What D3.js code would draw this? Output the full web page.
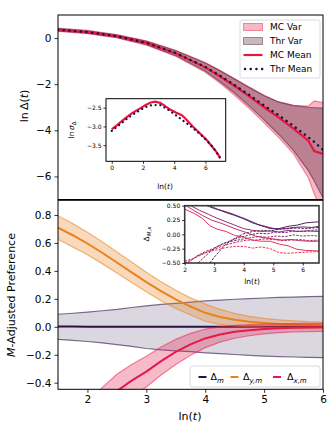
<!DOCTYPE html>
<html>
<head>
<meta charset="utf-8">
<script src="https://cdn.jsdelivr.net/npm/d3@7"></script>
<style>
  body { margin: 0; background: #fff; }
  svg text { font-family: "DejaVu Sans", sans-serif; fill: #000; }
</style>
</head>
<body>
<div id="chart"></div>
<script>
// ---- data: top panel, ln Delta(t) vs ln(t)
var topX    = [1.5, 2.0, 2.5, 3.0, 3.5, 4.0, 4.25, 4.5, 4.75, 5.0, 5.25, 5.5, 5.75, 5.85, 6.0];
var mcMean  = [0.36, 0.26, 0.08, -0.21, -0.66, -1.27, -1.66, -2.08, -2.53, -3.0, -3.45, -3.93, -4.45, -4.9, -5.02];
var thrMean = [0.36, 0.26, 0.08, -0.21, -0.65, -1.25, -1.63, -2.04, -2.47, -2.92, -3.35, -3.81, -4.3, -4.5, -4.85];
var thrUp   = [0.41, 0.31, 0.13, -0.14, -0.55, -1.08, -1.42, -1.78, -2.15, -2.5, -2.77, -2.93, -3.0, -3.02, -3.04];
var thrLo   = [0.31, 0.21, 0.03, -0.28, -0.76, -1.43, -1.88, -2.38, -2.95, -3.55, -4.18, -4.88, -5.75, -6.2, -6.92];
var mcUp    = [0.43, 0.33, 0.15, -0.12, -0.53, -1.06, -1.4, -1.76, -2.12, -2.48, -2.78, -2.92, -2.95, -2.72, -2.8];
var mcLo    = [0.29, 0.19, 0.01, -0.31, -0.79, -1.48, -1.95, -2.48, -3.06, -3.68, -4.32, -5.02, -6.05, -6.75, -7.6];
var topYTicks = [0, -2, -4, -6];

// ---- data: top inset, ln sigma vs ln(t)
var insX   = [0, 0.32, 0.64, 0.96, 1.28, 1.6, 1.92, 2.2, 2.5, 2.78, 3.1, 3.4, 3.74, 4.1, 4.49, 4.7, 4.92, 5.24, 5.56, 5.85, 6.1, 6.41, 6.7, 6.95];
var insMC  = [-3.08, -2.97, -2.86, -2.75, -2.65, -2.57, -2.49, -2.42, -2.36, -2.34, -2.37, -2.45, -2.55, -2.63, -2.7, -2.78, -2.88, -3.02, -3.15, -3.27, -3.37, -3.53, -3.68, -3.84];
var insThr = [-3.12, -3.01, -2.91, -2.8, -2.7, -2.62, -2.54, -2.48, -2.44, -2.43, -2.43, -2.5, -2.59, -2.7, -2.82, -2.89, -2.95, -3.06, -3.17, -3.28, -3.38, -3.52, -3.68, -3.85];
var insXTicks = [0, 2, 4, 6];
var insYTicks = [-2.5, -3.0, -3.5];

// ---- data: bottom panel, M-adjusted preference
var botX   = [1.5, 1.75, 2.0, 2.25, 2.5, 2.75, 3.0, 3.25, 3.5, 3.75, 4.0, 4.25, 4.5, 4.75, 5.0, 5.25, 5.5, 5.75, 6.0];
var dmMean = [0.002, 0.002, 0.001, 0.001, 0.001, 0.001, 0.0, 0.0, 0.001, 0.001, 0.0, 0.0, 0.001, 0.001, 0.0, 0.0, 0.0, 0.0, 0.0];
var dmUp   = [0.09, 0.097, 0.105, 0.115, 0.125, 0.138, 0.15, 0.16, 0.168, 0.177, 0.185, 0.191, 0.197, 0.202, 0.206, 0.21, 0.213, 0.216, 0.218];
var dmLo   = [-0.09, -0.097, -0.105, -0.115, -0.127, -0.14, -0.155, -0.165, -0.172, -0.178, -0.186, -0.192, -0.198, -0.204, -0.209, -0.213, -0.216, -0.219, -0.221];
var dyMean = [0.71, 0.655, 0.596, 0.53, 0.46, 0.39, 0.32, 0.255, 0.196, 0.145, 0.1, 0.07, 0.05, 0.037, 0.028, 0.021, 0.017, 0.014, 0.012];
var dyUp   = [0.795, 0.738, 0.676, 0.608, 0.535, 0.463, 0.39, 0.323, 0.261, 0.207, 0.162, 0.125, 0.096, 0.075, 0.06, 0.05, 0.043, 0.037, 0.034];
var dyLo   = [0.625, 0.572, 0.516, 0.452, 0.385, 0.317, 0.25, 0.187, 0.131, 0.085, 0.04, 0.017, 0.005, -0.001, -0.004, -0.007, -0.009, -0.01, -0.01];
var dxMean = [-0.85, -0.76, -0.66, -0.56, -0.46, -0.385, -0.32, -0.245, -0.18, -0.125, -0.083, -0.055, -0.036, -0.024, -0.015, -0.01, -0.007, -0.005, -0.004];
var dxUp   = [-0.71, -0.625, -0.53, -0.435, -0.34, -0.27, -0.21, -0.145, -0.09, -0.047, -0.017, 0.0, 0.01, 0.016, 0.02, 0.022, 0.023, 0.024, 0.024];
var dxLo   = [-0.99, -0.895, -0.79, -0.685, -0.58, -0.5, -0.43, -0.345, -0.27, -0.203, -0.149, -0.11, -0.082, -0.064, -0.05, -0.042, -0.037, -0.034, -0.032];
var botXTicks = [2, 3, 4, 5, 6];
var botYTicks = [-0.4, -0.2, 0.0, 0.2, 0.4, 0.6, 0.8];

// ---- data: bottom inset, single-run trajectories (solid and dashed)
var trajColors = ["#3a0e52", "#5e1363", "#8a1862", "#b81b55", "#e81d4a"];
var solidX = [
  [2.85, 3.1, 3.4, 3.7, 4.0, 4.3, 4.6, 4.9, 5.2, 5.5, 5.8, 6.1, 6.55],
  [2.75, 3.0, 3.3, 3.6, 3.9, 4.2, 4.5, 4.8, 5.1, 5.4, 5.7, 6.0, 6.3, 6.55],
  [2.2, 2.5, 2.8, 3.1, 3.4, 3.7, 4.0, 4.3, 4.6, 4.9, 5.2, 5.5, 5.8, 6.1, 6.55],
  [2.05, 2.3, 2.6, 2.9, 3.2, 3.5, 3.8, 4.1, 4.4, 4.7, 5.0, 5.3, 5.6, 5.9, 6.2, 6.55],
  [2.0, 2.3, 2.6, 2.85, 3.1, 3.4, 3.7, 4.0, 4.3, 4.6, 4.9, 5.2, 5.5, 5.8, 6.1, 6.55]
];
var solidY = [
  [0.5, 0.44, 0.38, 0.33, 0.27, 0.2, 0.15, 0.1, 0.1, 0.14, 0.16, 0.2, 0.22],
  [0.5, 0.45, 0.41, 0.36, 0.3, 0.24, 0.17, 0.13, 0.09, 0.1, 0.12, 0.13, 0.12, 0.14],
  [0.5, 0.42, 0.35, 0.28, 0.22, 0.16, 0.1, 0.07, 0.05, 0.06, 0.04, 0.07, 0.05, 0.06, 0.05],
  [0.5, 0.42, 0.33, 0.25, 0.2, 0.14, 0.08, 0.03, -0.03, -0.06, -0.08, -0.1, -0.09, -0.11, -0.12, -0.12],
  [0.44, 0.37, 0.28, 0.15, 0.09, 0.05, -0.02, -0.05, -0.1, -0.12, -0.12, -0.17, -0.2, -0.26, -0.28, -0.29]
];
var dashX = [
  [2.85, 3.0, 3.2, 3.4, 3.6, 3.8, 4.0, 4.3, 4.6, 4.9, 5.2, 5.5, 5.8, 6.1, 6.55],
  [2.45, 2.7, 3.0, 3.3, 3.6, 3.9, 4.2, 4.5, 4.8, 5.1, 5.4, 5.7, 6.0, 6.3, 6.55],
  [2.1, 2.4, 2.7, 3.0, 3.3, 3.6, 3.9, 4.2, 4.5, 4.8, 5.1, 5.4, 5.7, 6.0, 6.3, 6.55],
  [2.0, 2.3, 2.6, 2.9, 3.2, 3.5, 3.8, 4.1, 4.4, 4.7, 5.0, 5.3, 5.6, 5.9, 6.2, 6.55],
  [2.0, 2.25, 2.5, 2.8, 3.1, 3.4, 3.7, 4.0, 4.3, 4.6, 4.9, 5.2, 5.5, 5.8, 6.1, 6.55]
];
var dashY = [
  [-0.5, -0.4, -0.28, -0.17, -0.1, -0.04, 0.01, 0.05, 0.07, 0.06, 0.09, 0.1, 0.11, 0.1, 0.12],
  [-0.5, -0.38, -0.24, -0.16, -0.1, -0.05, -0.01, 0.02, 0.01, 0.04, 0.03, 0.06, 0.05, 0.07, 0.08],
  [-0.5, -0.38, -0.3, -0.24, -0.17, -0.12, -0.09, -0.06, -0.04, -0.05, -0.03, -0.04, -0.01, -0.03, -0.02, -0.03],
  [-0.47, -0.42, -0.35, -0.28, -0.22, -0.17, -0.13, -0.1, -0.1, -0.08, -0.09, -0.11, -0.1, -0.09, -0.11, -0.1],
  [-0.5, -0.44, -0.36, -0.3, -0.27, -0.23, -0.21, -0.21, -0.24, -0.22, -0.25, -0.32, -0.33, -0.32, -0.31, -0.3]
];
var bInsXTicks = [2, 3, 4, 5, 6];
var bInsYTicks = [-0.5, -0.25, 0, 0.25, 0.5];

// colours
var mcRed = "#e8163f", thrDark = "#4a1633", thrDots = "#1d0b3d";
var cM = "#2b1148", cY = "#e8821e", cX = "#e6194b";

var svg = d3.select("#chart").append("svg")
  .attr("width", 332).attr("height", 426);

var L = 58, R = 323;
var x = d3.scaleLinear().domain([1.5, 6]).range([L, R]);
var yTop = d3.scaleLinear().domain([-7, 1]).range([199.5, 15]);
var yBot = d3.scaleLinear().domain([-0.447, 0.905]).range([389.3, 200.3]);

function minus(s) { return String(s).replace("-", "\u2212"); }
function pts(xs, ys) { return xs.map(function (v, i) { return [v, ys[i]]; }); }
function band(xs, lo, up) { return xs.map(function (v, i) { return [v, lo[i], up[i]]; }); }
var intFmt = function (d) { return minus(d3.format("d")(d)); };

function clip(id, x0, y0, x1, y1) {
  svg.append("clipPath").attr("id", id).append("rect")
    .attr("x", x0).attr("y", y0).attr("width", x1 - x0).attr("height", y1 - y0);
}

function styleAxis(g, size) {
  g.select(".domain").remove();
  g.selectAll(".tick line").attr("stroke", "#000").attr("stroke-width", 0.8);
  g.selectAll(".tick text").style("font-size", size + "px").attr("fill", "#000");
}

function frame(x0, y0, x1, y1, col, w) {
  svg.append("rect").attr("x", x0).attr("y", y0).attr("width", x1 - x0).attr("height", y1 - y0)
    .attr("fill", "none").attr("stroke", col || "#000").attr("stroke-width", w || 1);
}

// ============ top panel ============
clip("clipTop", L, 15, R, 199.5);
var gTop = svg.append("g").attr("clip-path", "url(#clipTop)");

var areaT = d3.area().x(function (d) { return x(d[0]); })
  .y0(function (d) { return yTop(d[1]); }).y1(function (d) { return yTop(d[2]); });
var lineT = d3.line().x(function (d) { return x(d[0]); }).y(function (d) { return yTop(d[1]); });

gTop.append("path").datum(band(topX, mcLo, mcUp)).attr("d", areaT)
  .attr("fill", mcRed).attr("fill-opacity", 0.3);
gTop.selectAll(".mcEdge").data([mcLo, mcUp]).enter().append("path")
  .attr("d", function (d) { return lineT(pts(topX, d)); })
  .attr("fill", "none").attr("stroke", mcRed).attr("stroke-opacity", 0.45).attr("stroke-width", 1.2);
gTop.append("path").datum(band(topX, thrLo, thrUp)).attr("d", areaT)
  .attr("fill", thrDark).attr("fill-opacity", 0.35);
gTop.selectAll(".thrEdge").data([thrLo, thrUp]).enter().append("path")
  .attr("d", function (d) { return lineT(pts(topX, d)); })
  .attr("fill", "none").attr("stroke", thrDark).attr("stroke-opacity", 0.5).attr("stroke-width", 1.2);
gTop.append("path").datum(pts(topX, mcMean)).attr("d", lineT)
  .attr("fill", "none").attr("stroke", mcRed).attr("stroke-width", 2.2);
gTop.append("path").datum(pts(topX, thrMean)).attr("d", lineT)
  .attr("fill", "none").attr("stroke", thrDots).attr("stroke-width", 2.4)
  .attr("stroke-linecap", "round").attr("stroke-dasharray", "0.1 5.6");

frame(L, 15, R, 199.5);
svg.append("g").attr("transform", "translate(" + L + ",0)")
  .call(d3.axisLeft(yTop).tickValues(topYTicks).tickSize(3.5).tickPadding(3).tickFormat(intFmt))
  .call(styleAxis, 10.5);

// y label
var tl = svg.append("text").attr("transform", "translate(24,106) rotate(-90)")
  .attr("text-anchor", "middle").attr("dy", "0.35em").style("font-size", "11px");
tl.append("tspan").text("ln\u2009\u0394(");
tl.append("tspan").style("font-style", "italic").text("t");
tl.append("tspan").text(")");

// legend top
svg.append("rect").attr("x", 240).attr("y", 20).attr("width", 80).attr("height", 58).attr("rx", 2)
  .attr("fill", "#fff").attr("fill-opacity", 0.8).attr("stroke", "#d0d0d0").attr("stroke-width", 0.8);
var legTop = [
  { label: "MC Var", kind: "patch", fill: mcRed, stroke: mcRed },
  { label: "Thr Var", kind: "patch", fill: thrDark, stroke: thrDark },
  { label: "MC Mean", kind: "line" },
  { label: "Thr Mean", kind: "dots" }
];
legTop.forEach(function (e, i) {
  var cy = 27 + i * 14;
  if (e.kind === "patch") {
    svg.append("rect").attr("x", 243.5).attr("y", cy - 3.5).attr("width", 19).attr("height", 7)
      .attr("fill", e.fill).attr("fill-opacity", 0.3).attr("stroke", e.stroke).attr("stroke-opacity", 0.45);
  } else if (e.kind === "line") {
    svg.append("line").attr("x1", 243.5).attr("x2", 262.5).attr("y1", cy).attr("y2", cy)
      .attr("stroke", mcRed).attr("stroke-width", 2.2);
  } else {
    svg.append("line").attr("x1", 245).attr("x2", 263).attr("y1", cy).attr("y2", cy)
      .attr("stroke", thrDots).attr("stroke-width", 2.4).attr("stroke-linecap", "round")
      .attr("stroke-dasharray", "0.1 5.6");
  }
  svg.append("text").attr("x", 270).attr("y", cy).attr("dy", "0.35em")
    .style("font-size", "9px").text(e.label);
});

// ---- top inset
var iL = 106, iR = 225.7, iT = 98.7, iB = 161.3;
var xi = d3.scaleLinear().domain([-0.37, 7.3]).range([iL, iR]);
var yi = d3.scaleLinear().domain([-3.93, -2.26]).range([iB, iT]);
svg.append("rect").attr("x", iL).attr("y", iT).attr("width", iR - iL).attr("height", iB - iT).attr("fill", "#fff");
var lineI = d3.line().x(function (d) { return xi(d[0]); }).y(function (d) { return yi(d[1]); });
svg.append("path").datum(pts(insX, insMC)).attr("d", lineI)
  .attr("fill", "none").attr("stroke", mcRed).attr("stroke-width", 2.2);
svg.append("path").datum(pts(insX, insThr)).attr("d", lineI)
  .attr("fill", "none").attr("stroke", thrDots).attr("stroke-width", 2.2)
  .attr("stroke-linecap", "round").attr("stroke-dasharray", "0.1 4.6");
frame(iL, iT, iR, iB);
svg.append("g").attr("transform", "translate(0," + iB + ")")
  .call(d3.axisBottom(xi).tickValues(insXTicks).tickSize(2.5).tickPadding(2).tickFormat(intFmt))
  .call(styleAxis, 6);
svg.append("g").attr("transform", "translate(" + iL + ",0)")
  .call(d3.axisLeft(yi).tickValues(insYTicks).tickSize(2.5).tickPadding(2).tickFormat(function (d) { return minus(d.toFixed(1)); }))
  .call(styleAxis, 6);
var il = svg.append("text").attr("x", 165).attr("y", 186).attr("text-anchor", "middle")
  .attr("dy", "0.35em").style("font-size", "7.5px");
il.append("tspan").text("ln(");
il.append("tspan").style("font-style", "italic").text("t");
il.append("tspan").text(")");
var is = svg.append("text").attr("transform", "translate(71,130) rotate(-90)")
  .attr("text-anchor", "middle").attr("dy", "0.35em").style("font-size", "7.5px");
is.append("tspan").text("ln\u2009");
is.append("tspan").style("font-style", "italic").text("\u03c3");
is.append("tspan").attr("dy", "2").style("font-size", "5.5px").text("\u0394");

// ============ bottom panel ============
clip("clipBot", L, 200.3, R, 389.3);
var gBot = svg.append("g").attr("clip-path", "url(#clipBot)");
var areaB = d3.area().x(function (d) { return x(d[0]); })
  .y0(function (d) { return yBot(d[1]); }).y1(function (d) { return yBot(d[2]); });
var lineB = d3.line().x(function (d) { return x(d[0]); }).y(function (d) { return yBot(d[1]); });

var series = [
  { col: cM, mean: dmMean, lo: dmLo, up: dmUp, fo: 0.17, eo: 0.6 },
  { col: cY, mean: dyMean, lo: dyLo, up: dyUp, fo: 0.3, eo: 0.55 },
  { col: cX, mean: dxMean, lo: dxLo, up: dxUp, fo: 0.3, eo: 0.5 }
];
series.forEach(function (s) {
  gBot.append("path").datum(band(botX, s.lo, s.up)).attr("d", areaB)
    .attr("fill", s.col).attr("fill-opacity", s.fo);
  [s.lo, s.up].forEach(function (b) {
    gBot.append("path").datum(pts(botX, b)).attr("d", lineB)
      .attr("fill", "none").attr("stroke", s.col).attr("stroke-opacity", s.eo).attr("stroke-width", 1.2);
  });
  gBot.append("path").datum(pts(botX, s.mean)).attr("d", lineB)
    .attr("fill", "none").attr("stroke", s.col).attr("stroke-width", 2);
});

frame(L, 200.3, R, 389.3);
svg.append("g").attr("transform", "translate(0,389.3)")
  .call(d3.axisBottom(x).tickValues(botXTicks).tickSize(3.5).tickPadding(3).tickFormat(intFmt))
  .call(styleAxis, 10.5);
svg.append("g").attr("transform", "translate(" + L + ",0)")
  .call(d3.axisLeft(yBot).tickValues(botYTicks).tickSize(3.5).tickPadding(3).tickFormat(function (d) { return minus(d.toFixed(1)); }))
  .call(styleAxis, 10.5);

var bl = svg.append("text").attr("x", 190).attr("y", 416).attr("text-anchor", "middle")
  .attr("dy", "0.35em").style("font-size", "11px");
bl.append("tspan").text("ln(");
bl.append("tspan").style("font-style", "italic").text("t");
bl.append("tspan").text(")");
var yl = svg.append("text").attr("transform", "translate(11,295) rotate(-90)")
  .attr("text-anchor", "middle").attr("dy", "0.35em").style("font-size", "11px");
yl.append("tspan").style("font-style", "italic").text("M");
yl.append("tspan").text("-Adjusted Preference");

// legend bottom
svg.append("rect").attr("x", 190).attr("y", 366).attr("width", 130).attr("height", 21).attr("rx", 2)
  .attr("fill", "#fff").attr("fill-opacity", 0.8).attr("stroke", "#d0d0d0").attr("stroke-width", 0.8);
var legBot = [
  { col: cM, sub: "m", x0: 198.5, tx: 210.5 },
  { col: cY, sub: "y,m", x0: 230.5, tx: 243 },
  { col: cX, sub: "x,m", x0: 273, tx: 287 }
];
legBot.forEach(function (e) {
  svg.append("line").attr("x1", e.x0).attr("x2", e.x0 + 8).attr("y1", 377).attr("y2", 377)
    .attr("stroke", e.col).attr("stroke-width", 2);
  var t = svg.append("text").attr("x", e.tx).attr("y", 377).attr("dy", "0.35em").style("font-size", "9.5px");
  t.append("tspan").text("\u0394");
  t.append("tspan").attr("dy", "2.5").style("font-size", "7px").style("font-style", "italic").text(e.sub);
});

// ---- bottom inset
var jL = 184.7, jR = 319, jT = 205.7, jB = 263;
var xj = d3.scaleLinear().domain([2, 6.55]).range([jL, jR]);
var yj = d3.scaleLinear().domain([-0.5, 0.5]).range([jB, jT]);
svg.append("rect").attr("x", jL).attr("y", jT).attr("width", jR - jL).attr("height", jB - jT).attr("fill", "#fff");
clip("clipIns", jL, jT, jR, jB);
var gIns = svg.append("g").attr("clip-path", "url(#clipIns)");
var lineJ = d3.line().x(function (d) { return xj(d[0]); }).y(function (d) { return yj(d[1]); });
trajColors.forEach(function (c, i) {
  gIns.append("path").datum(pts(solidX[i], solidY[i])).attr("d", lineJ)
    .attr("fill", "none").attr("stroke", c).attr("stroke-width", 0.9);
  gIns.append("path").datum(pts(dashX[i], dashY[i])).attr("d", lineJ)
    .attr("fill", "none").attr("stroke", c).attr("stroke-width", 0.9).attr("stroke-dasharray", "2.5 1.2");
});
frame(jL, jT, jR, jB, "#3a3a3a", 1.6);
svg.append("g").attr("transform", "translate(0," + jB + ")")
  .call(d3.axisBottom(xj).tickValues(bInsXTicks).tickSize(2.5).tickPadding(2).tickFormat(intFmt))
  .call(styleAxis, 6);
svg.append("g").attr("transform", "translate(" + jL + ",0)")
  .call(d3.axisLeft(yj).tickValues(bInsYTicks).tickSize(2.5).tickPadding(2).tickFormat(function (d) { return minus(d.toFixed(2)); }))
  .call(styleAxis, 6);
var jl = svg.append("text").attr("x", 252).attr("y", 281).attr("text-anchor", "middle")
  .attr("dy", "0.35em").style("font-size", "7.5px");
jl.append("tspan").text("ln(");
jl.append("tspan").style("font-style", "italic").text("t");
jl.append("tspan").text(")");
var jy = svg.append("text").attr("transform", "translate(146,234) rotate(-90)")
  .attr("text-anchor", "middle").attr("dy", "0.35em").style("font-size", "7.5px");
jy.append("tspan").text("\u0394");
jy.append("tspan").attr("dy", "2").style("font-size", "5.5px").style("font-style", "italic").text("M,x");
</script>
</body>
</html>
